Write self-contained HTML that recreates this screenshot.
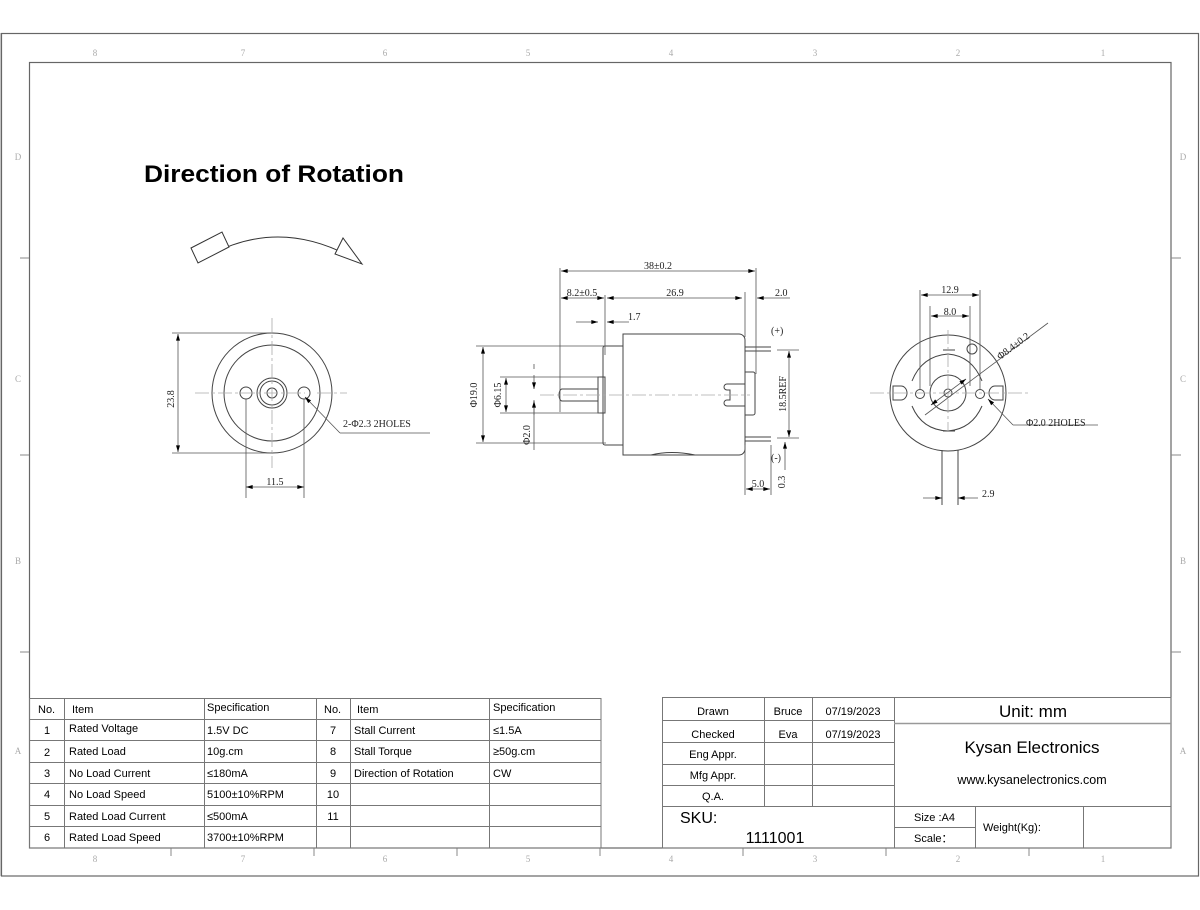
<!DOCTYPE html>
<html><head><meta charset="utf-8"><style>
html,body{margin:0;padding:0;background:#fff;}
svg{display:block}
text{font-family:"Liberation Sans",sans-serif;fill:#000}
text.s{font-family:"Liberation Serif",serif;font-size:10px;fill:#222}
.g text{font-family:"Liberation Serif",serif;font-size:9px;fill:#aaa}
</style></head><body>
<svg width="1200" height="910" viewBox="0 0 1200 910" xmlns="http://www.w3.org/2000/svg">
<defs>
<marker id="a" viewBox="0 0 10 6" refX="10" refY="3" markerWidth="10" markerHeight="4" orient="auto-start-reverse" markerUnits="userSpaceOnUse"><path d="M0,0L10,3L0,6z" fill="#000"/></marker>
</defs>
<rect x="0" y="33" width="2" height="843" fill="#ccc"/>
<g fill="none" stroke="#666" stroke-width="1.2">
<rect x="1.5" y="33.5" width="1197" height="842.5"/>
<rect x="29.5" y="62.5" width="1141.5" height="785.5"/>
</g>
<g stroke="#888" stroke-width="1">
<path d="M171,848v8M314,848v8M457,848v8M600,848v8M743,848v8M886,848v8M1029,848v8"/>
<path d="M20,258h9M20,455h9M20,652h9M1171,258h10M1171,455h10M1171,652h10"/>
</g>
<g class="g" text-anchor="middle">
<text x="95" y="56">8</text><text x="243" y="56">7</text><text x="385" y="56">6</text><text x="528" y="56">5</text><text x="671" y="56">4</text><text x="815" y="56">3</text><text x="958" y="56">2</text><text x="1103" y="56">1</text>
<text x="95" y="862">8</text><text x="243" y="862">7</text><text x="385" y="862">6</text><text x="528" y="862">5</text><text x="671" y="862">4</text><text x="815" y="862">3</text><text x="958" y="862">2</text><text x="1103" y="862">1</text>
<text x="18" y="160">D</text><text x="18" y="382">C</text><text x="18" y="564">B</text><text x="18" y="754">A</text>
<text x="1183" y="160">D</text><text x="1183" y="382">C</text><text x="1183" y="564">B</text><text x="1183" y="754">A</text>
</g>

<text x="144" y="182" font-size="24" font-weight="bold" textLength="260" lengthAdjust="spacingAndGlyphs">Direction of Rotation</text>

<!-- rotation arc -->
<g fill="none" stroke="#333" stroke-width="1">
<path d="M198,262 Q277,212 360,262"/>
<path d="M191,248 L222,232 L229,247 L198,263 Z" fill="#fff"/>
<path d="M343,238 L335,254 L362,264 Z" fill="#fff"/>
</g>

<!-- left front view -->
<g fill="none" stroke="#444" stroke-width="1">
<circle cx="272" cy="393" r="60"/>
<circle cx="272" cy="393" r="48"/>
<circle cx="272" cy="393" r="15"/>
<circle cx="272" cy="393" r="12"/>
<circle cx="272" cy="393" r="5"/>
<circle cx="246" cy="393" r="6"/>
<circle cx="304" cy="393" r="6"/>
</g>
<g stroke="#aaa" stroke-width="0.8" stroke-dasharray="14,3,3,3">
<path d="M195,393h110M317,393h30M272,318v150"/>
</g>
<g stroke="#555" stroke-width="0.8" fill="none">
<path d="M172,333h100M172,453h100"/>
<path d="M178,334V452" marker-start="url(#a)" marker-end="url(#a)"/>
<path d="M246,399v99M304,399v99"/>
<path d="M246,487H304" marker-start="url(#a)" marker-end="url(#a)"/>
<path d="M340,433L305,397" marker-end="url(#a)"/>
<path d="M340,433H430"/>
</g>
<text class="s" x="168" y="393" transform="rotate(-90 174 393)" text-anchor="middle">23.8</text>
<text class="s" x="275" y="485" text-anchor="middle">11.5</text>
<text class="s" x="343" y="427">2-Φ2.3 2HOLES</text>

<!-- middle side view -->
<g fill="none" stroke="#444" stroke-width="1">
<path d="M623,334h116a6,6 0 0 1 6,6v109a6,6 0 0 1 -6,6h-116z"/>
<path d="M605,346h18v99h-18a2,2 0 0 1 -2,-2v-95a2,2 0 0 1 2,-2z"/>
<path d="M598,377h7v36h-7z"/>
<path d="M598,389h-36a3,6 0 0 0 0,12h36"/>
<path d="M745,372h8a2,2 0 0 1 2,2v39a2,2 0 0 1 -2,2h-8"/>
<path d="M745,384h-18a3,3 0 0 0 0,6h3v10h-3a3,3 0 0 0 0,6h18"/>
<path d="M745,347h26M745,351h26M745,437h26M745,441h26"/>
<path d="M651,455q20,-5 44,0"/>
</g>
<path d="M540,395h210" stroke="#aaa" stroke-width="0.8" stroke-dasharray="14,3,3,3"/>
<g stroke="#555" stroke-width="0.8" fill="none">
<path d="M560,268v144M756,268v85M605,295v60M745,292v45M756,292v82"/>
<path d="M561,271H755" marker-start="url(#a)" marker-end="url(#a)"/>
<path d="M561,298H604" marker-start="url(#a)" marker-end="url(#a)"/>
<path d="M607,298H742" marker-start="url(#a)" marker-end="url(#a)"/>
<path d="M790,298H757" marker-end="url(#a)"/>
<path d="M576,322H598" marker-end="url(#a)"/>
<path d="M629,322H607" marker-end="url(#a)"/>
<path d="M476,346h130M476,443h130"/>
<path d="M483,347V442" marker-start="url(#a)" marker-end="url(#a)"/>
<path d="M500,377h100M500,413h100"/>
<path d="M506,378V412" marker-start="url(#a)" marker-end="url(#a)"/>
<path d="M534,369v-5M534,400v50"/>
<path d="M534,375V389" marker-end="url(#a)"/>
<path d="M534,415V401" marker-end="url(#a)"/>
<path d="M777,350h22M777,438h22"/>
<path d="M789,351V437" marker-start="url(#a)" marker-end="url(#a)"/>
<path d="M785,470V442" marker-end="url(#a)"/>
<path d="M745,445v50M771,445v50"/>
<path d="M746,489H770" marker-start="url(#a)" marker-end="url(#a)"/>
</g>
<text class="s" x="658" y="269" text-anchor="middle">38±0.2</text>
<text class="s" x="582" y="296" text-anchor="middle">8.2±0.5</text>
<text class="s" x="675" y="296" text-anchor="middle">26.9</text>
<text class="s" x="775" y="296">2.0</text>
<text class="s" x="628" y="320">1.7</text>
<text class="s" x="771" y="334">(+)</text>
<text class="s" x="771" y="461">(-)</text>
<text class="s" x="758" y="487" text-anchor="middle">5.0</text>
<text class="s" x="477" y="395" transform="rotate(-90 477 395)" text-anchor="middle">Φ19.0</text>
<text class="s" x="501" y="395" transform="rotate(-90 501 395)" text-anchor="middle">Φ6.15</text>
<text class="s" x="530" y="435" transform="rotate(-90 530 435)" text-anchor="middle">Φ2.0</text>
<text class="s" x="786" y="394" transform="rotate(-90 786 394)" text-anchor="middle">18.5REF</text>
<text class="s" x="785" y="482" transform="rotate(-90 785 482)" text-anchor="middle">0.3</text>

<!-- right rear view -->
<g fill="none" stroke="#444" stroke-width="1">
<circle cx="948" cy="393" r="58"/>
<circle cx="948" cy="393" r="18"/>
<circle cx="948" cy="393" r="4"/>
<circle cx="920" cy="394" r="4.5"/>
<circle cx="980" cy="394" r="4.5"/>
<circle cx="972" cy="349" r="5"/>
<path d="M912,381q10,-25 36,-27q24,2 34,27"/>
<path d="M912,406q10,24 36,25q24,-2 34,-25"/>
<path d="M893,386h8a6,7 0 0 1 0,14h-8z"/>
<path d="M1003,386h-8a6,7 0 0 0 0,14h8z"/>
<path d="M943,350h12M943,431h12"/>
<path d="M942,450v55M958,450v55"/>
</g>
<g stroke="#aaa" stroke-width="0.8" stroke-dasharray="14,3,3,3">
<path d="M870,393h160M948,330v100"/>
</g>
<g stroke="#555" stroke-width="0.8" fill="none">
<path d="M920,290v100M980,290v100M930,306v80M970,306v80"/>
<path d="M921,295H979" marker-start="url(#a)" marker-end="url(#a)"/>
<path d="M931,316H969" marker-start="url(#a)" marker-end="url(#a)"/>
<path d="M925,415L1048,323"/>
<path d="M966,379L931,405" marker-start="url(#a)" marker-end="url(#a)"/>
<path d="M1013,425L988,399" marker-end="url(#a)"/>
<path d="M1013,425H1098"/>
<path d="M923,498H942" marker-end="url(#a)"/>
<path d="M978,498H958" marker-end="url(#a)"/>
</g>
<text class="s" x="950" y="293" text-anchor="middle">12.9</text>
<text class="s" x="950" y="315" text-anchor="middle">8.0</text>
<text class="s" x="1000" y="360" transform="rotate(-37 1000 360)">Φ8.4±0.2</text>
<text class="s" x="1026" y="426">Φ2.0 2HOLES</text>
<text class="s" x="982" y="497">2.9</text>

<!-- left table -->
<g stroke="#777" stroke-width="1" fill="none">
<rect x="29.5" y="698.5" width="571.5" height="149.5"/>
<path d="M29,719.5h572M29,740.5h572M29,762.5h572M29,783.5h572M29,805.5h572M29,826.5h572"/>
<path d="M64.5,698v150M204.5,698v150M316.5,698v150M350.5,698v150M489.5,698v150"/>
</g>
<g font-size="11">
<text x="38" y="713">No.</text><text x="72" y="713">Item</text><text x="207" y="711">Specification</text>
<text x="324" y="713">No.</text><text x="357" y="713">Item</text><text x="493" y="711">Specification</text>
<g text-anchor="middle"><text x="47" y="734">1</text><text x="47" y="756">2</text><text x="47" y="777">3</text><text x="47" y="798">4</text><text x="47" y="820">5</text><text x="47" y="841">6</text>
<text x="333" y="734">7</text><text x="333" y="755">8</text><text x="333" y="777">9</text><text x="333" y="798">10</text><text x="333" y="820">11</text></g>
<text x="69" y="732">Rated Voltage</text><text x="69" y="755">Rated Load</text><text x="69" y="777">No Load Current</text><text x="69" y="798">No Load Speed</text><text x="69" y="820">Rated Load Current</text><text x="69" y="841">Rated Load Speed</text>
<text x="207" y="734">1.5V DC</text><text x="207" y="755">10g.cm</text><text x="207" y="777">≤180mA</text><text x="207" y="798">5100±10%RPM</text><text x="207" y="820">≤500mA</text><text x="207" y="841">3700±10%RPM</text>
<text x="354" y="734">Stall Current</text><text x="354" y="755">Stall Torque</text><text x="354" y="777">Direction of Rotation</text>
<text x="493" y="734">≤1.5A</text><text x="493" y="755">≥50g.cm</text><text x="493" y="777">CW</text>
</g>

<!-- title block -->
<g stroke="#777" stroke-width="1" fill="none">
<rect x="662.5" y="697.5" width="508.5" height="150.5"/>
<path d="M662,720.5h232M662,742.5h232M662,764.5h232M662,785.5h232M662,806.5h509"/>
<path d="M764.5,698v108M812.5,698v108M894.5,698v150"/>
<path d="M894,723.5h277" stroke="#999" stroke-width="1.5"/>
<path d="M894,827.5h81M975.5,806v42M1083.5,806v42"/>
</g>
<g font-size="11" text-anchor="middle">
<text x="713" y="715">Drawn</text><text x="713" y="738">Checked</text><text x="713" y="758">Eng Appr.</text><text x="713" y="779">Mfg Appr.</text><text x="713" y="800">Q.A.</text>
<text x="788" y="715">Bruce</text><text x="788" y="738">Eva</text>
<text x="853" y="715">07/19/2023</text><text x="853" y="738">07/19/2023</text>
<text x="1033" y="717" font-size="17">Unit: mm</text>
<text x="1032" y="753" font-size="17">Kysan Electronics</text>
<text x="1032" y="784" font-size="12.5">www.kysanelectronics.com</text>
<text x="775" y="843" font-size="16">1111001</text>
</g>
<text x="680" y="823" font-size="16">SKU:</text>
<text x="914" y="821" font-size="11">Size :A4</text>
<text x="914" y="842" font-size="11">Scale：</text>
<text x="983" y="831" font-size="11">Weight(Kg):</text>
</svg>
</body></html>
